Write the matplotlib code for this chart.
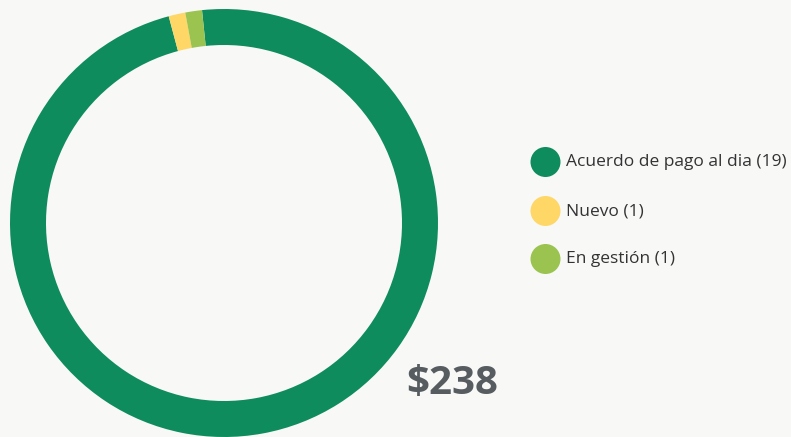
import matplotlib
matplotlib.use("Agg")
import matplotlib.pyplot as plt
from matplotlib.patches import Circle

categories = ["Acuerdo de pago al dia (19)", "Nuevo (1)", "En gestión (1)"]
values = [232, 3, 3]
colors = ["#0e8c5e", "#fed766", "#9bc34f"]
total_label = "$238"

W, H = 791, 437
fig = plt.figure(figsize=(W / 100, H / 100), dpi=100)
fig.patch.set_facecolor("#f8f8f7")
ax = fig.add_axes([0, 0, 1, 1])
ax.set_facecolor("#f8f8f7")

cx, cy, R = 224, H - 223, 214
ax.pie(values, colors=colors, startangle=95.9, counterclock=False,
       center=(cx, cy), radius=R, frame=True,
       wedgeprops=dict(width=36, linewidth=0))
ax.set_xlim(0, W)
ax.set_ylim(0, H)
ax.set_aspect("equal")
ax.axis("off")

font = ["Open Sans", "DejaVu Sans"]
ys = [162, 211, 259]
for lab, col, y in zip(categories, colors, ys):
    ax.add_patch(Circle((545.5, H - y), 15, color=col, lw=0))
    ax.text(566, H - y, lab, fontsize=12.5, color="#333333", va="center",
            ha="left", family=font)

ax.text(452.5, H - 383, total_label, fontsize=29, fontweight="bold",
        color="#565c5f", ha="center", va="center", family=font)

fig.savefig("out.png", dpi=100, facecolor=fig.get_facecolor())
